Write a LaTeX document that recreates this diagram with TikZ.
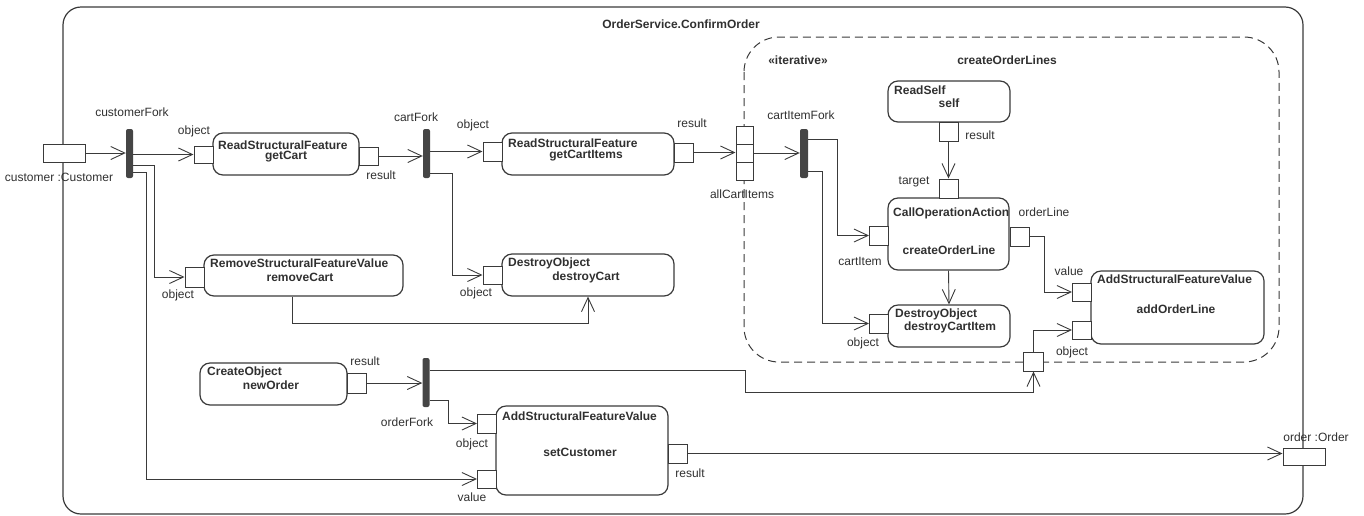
\documentclass[tikz,border=0pt]{standalone}
\usepackage{fontspec}
\setmainfont{Liberation Sans}
\usetikzlibrary{arrows.meta}
\definecolor{ln}{HTML}{3A3A3A}
\definecolor{txt}{HTML}{303030}
\definecolor{bar}{HTML}{454545}
\begin{document}
\begin{tikzpicture}[x=1pt,y=-1pt,
  lbl/.style={font=\fontsize{12}{14}\selectfont, text=txt, inner sep=0},
  kind/.style={font=\bfseries\fontsize{12}{14}\selectfont, text=txt, inner sep=0, anchor=west},
  nm/.style={font=\bfseries\fontsize{12}{14}\selectfont, text=txt, inner sep=0},
  act/.style={draw=ln, line width=1.2pt, rounded corners=10pt, inner sep=0},
  pinbox/.style={draw=ln, line width=1pt, fill=white, inner sep=0, minimum width=19pt, minimum height=19pt},
  forkbar/.style={fill=bar, rounded corners=2pt, inner sep=0, minimum width=7pt, minimum height=49pt},
  flow/.style={draw=ln, line width=0.9pt, -{Straight Barb[length=14pt,width=13pt]}},
  wire/.style={draw=ln, line width=0.9pt},
  framebox/.style={draw=ln, line width=1.2pt, rounded corners=18pt},
  regionbox/.style={draw=ln, line width=1pt, rounded corners=35pt, dash pattern=on 8pt off 5pt}
]
\useasboundingbox (0,0) rectangle (1364,515);

% frame and expansion region
\draw[framebox] (63,7) rectangle (1303,514);
\node[nm] (title) at (681,24) {OrderService.ConfirmOrder};
\draw[regionbox] (744,37) rectangle (1279,362);
\node[nm] (iter) at (798,60) {«iterative»};
\node[nm] (regname) at (1007,60) {createOrderLines};

% parameter pins
\node[pinbox, minimum width=42pt, minimum height=18pt] (cust) at (64,153) {};
\node[lbl] (custL) at (59,177) {customer :Customer};
\node[pinbox, minimum width=42pt, minimum height=17pt] (order) at (1304,456.5) {};
\node[lbl] (orderL) at (1316,437) {order :Order};

% forks
\node[forkbar] (cf) at (129.5,153.5) {};
\node[lbl] (cfL) at (132,112) {customerFork};
\node[forkbar] (kf) at (426.5,153.5) {};
\node[lbl] (kfL) at (416,117) {cartFork};
\node[forkbar, minimum width=8pt] (cif) at (804,153.5) {};
\node[lbl] (cifL) at (801,115) {cartItemFork};
\node[forkbar] (of) at (426,382.5) {};
\node[lbl] (ofL) at (407,422) {orderFork};

% getCart
\node[act, minimum width=146pt, minimum height=42pt] (gc) at (286,154) {};
\node[kind] (gcK) at (218,145) {ReadStructuralFeature};
\node[nm] (gcN) at (286,157) {getCart};
\node[pinbox, minimum height=17pt] (gcObj) at (203.5,154.5) {};
\node[lbl] (gcObjL) at (194,131) {object};
\node[pinbox, minimum height=18pt] (gcRes) at (368.5,156) {};
\node[lbl] (gcResL) at (381,175) {result};

% getCartItems
\node[act, minimum width=172pt, minimum height=42pt] (gci) at (588,154) {};
\node[kind] (gciK) at (508,143) {ReadStructuralFeature};
\node[nm] (gciN) at (586,156) {getCartItems};
\node[pinbox] (gciObj) at (492.5,151.5) {};
\node[lbl] (gciObjL) at (473,125) {object};
\node[pinbox] (gciRes) at (683.5,152.5) {};
\node[lbl] (gciResL) at (692,123) {result};

% allCartItems pin stack
\node[pinbox, minimum width=17pt, minimum height=18pt] (aci1) at (744.5,135) {};
\node[pinbox, minimum width=17pt, minimum height=18pt] (aci2) at (744.5,153) {};
\node[pinbox, minimum width=17pt, minimum height=18pt] (aci3) at (744.5,171.5) {};
\node[lbl] (aciL) at (742,194) {allCartItems};

% removeCart
\node[act, minimum width=199pt, minimum height=41pt] (rc) at (303.5,275.5) {};
\node[kind] (rcK) at (210,263) {RemoveStructuralFeatureValue};
\node[nm] (rcN) at (300,277) {removeCart};
\node[pinbox, minimum height=20pt] (rcObj) at (194.5,277) {};
\node[lbl] (rcObjL) at (178,295) {object};

% destroyCart
\node[act, minimum width=172pt, minimum height=42pt] (dc) at (588,275) {};
\node[kind] (dcK) at (508,263) {DestroyObject};
\node[nm] (dcN) at (586,277) {destroyCart};
\node[pinbox, minimum height=18pt] (dcObj) at (492.5,275) {};
\node[lbl] (dcObjL) at (476,293) {object};

% ReadSelf
\node[act, minimum width=122pt, minimum height=41pt] (rs) at (949,101.5) {};
\node[kind] (rsK) at (894,90) {ReadSelf};
\node[nm] (rsN) at (949,103) {self};
\node[pinbox] (rsRes) at (948.5,131.5) {};
\node[lbl] (rsResL) at (980,135) {result};

% createOrderLine
\node[act, minimum width=121pt, minimum height=72pt] (col) at (948.5,234) {};
\node[kind] (colK) at (893,213) {CallOperationAction};
\node[nm] (colN) at (949,250) {createOrderLine};
\node[pinbox] (colTgt) at (948.5,188.5) {};
\node[lbl] (colTgtL) at (914,182) {target};
\node[pinbox] (colItem) at (879,235.5) {};
\node[lbl] (colItemL) at (860,261) {cartItem};
\node[pinbox] (colOut) at (1019.5,236.5) {};
\node[lbl] (colOutL) at (1044,212) {orderLine};

% destroyCartItem
\node[act, minimum width=122pt, minimum height=42pt] (dci) at (949,326) {};
\node[kind] (dciK) at (895,314) {DestroyObject};
\node[nm] (dciN) at (950,327) {destroyCartItem};
\node[pinbox] (dciObj) at (879,323.5) {};
\node[lbl] (dciObjL) at (863,343) {object};

% addOrderLine
\node[act, minimum width=173pt, minimum height=73pt] (aol) at (1177.5,307.5) {};
\node[kind] (aolK) at (1097,279) {AddStructuralFeatureValue};
\node[nm] (aolN) at (1176,309) {addOrderLine};
\node[pinbox, minimum height=18pt] (aolVal) at (1082,292) {};
\node[lbl] (aolValL) at (1069,271) {value};
\node[pinbox, minimum height=18pt] (aolObj) at (1082,330) {};
\node[lbl] (aolObjL) at (1072,352) {object};

% region input pin
\node[pinbox, minimum width=20pt] (rp) at (1033.5,361.5) {};

% newOrder
\node[act, minimum width=147pt, minimum height=42pt] (no) at (273.5,384) {};
\node[kind] (noK) at (207,372) {CreateObject};
\node[nm] (noN) at (271,385) {newOrder};
\node[pinbox, minimum height=20pt] (noRes) at (356.5,383) {};
\node[lbl] (noResL) at (365,361) {result};

% setCustomer
\node[act, minimum width=172pt, minimum height=89pt] (sc) at (582,450.5) {};
\node[kind] (scK) at (502,416) {AddStructuralFeatureValue};
\node[nm] (scN) at (580,452) {setCustomer};
\node[pinbox] (scObj) at (487,423.5) {};
\node[lbl] (scObjL) at (472,444) {object};
\node[pinbox, minimum height=18pt] (scVal) at (487,479) {};
\node[lbl] (scValL) at (472,497) {value};
\node[pinbox] (scRes) at (677.5,453.5) {};
\node[lbl] (scResL) at (690,473) {result};

% object flows
\draw[flow] (cust.east) -- (cust.east -| cf.west);
\draw[flow] (cf.east |- gcObj.west) -- (gcObj.west);
\draw[flow] (cf.east |- 0,165) -- (154,165) |- (rcObj.west);
\draw[flow] (cf.east |- 0,172) -- (146,172) |- (scVal.west);
\draw[flow] (gcRes.east) -- (gcRes.east -| kf.west);
\draw[flow] (kf.east |- gciObj.west) -- (gciObj.west);
\draw[flow] (kf.east |- 0,173) -- (452,173) |- (dcObj.west);
\draw[flow] ([xshift=-11.5pt]rc.south) -- ++(0,27) -| (dc.south);
\draw[flow] (gciRes.east) -- (gciRes.east -| aci2.west);
\draw[flow] (aci2.east) -- (aci2.east -| cif.west);
\draw[flow] (cif.east |- 0,139) -- (837,139) |- (colItem.west);
\draw[flow] (cif.east |- 0,171) -- (822,171) |- (dciObj.west);
\draw[flow] (rsRes.south) -- (colTgt.north);
\draw[flow] (col.south) -- (dci.north);
\draw[flow] (colOut.east) -- (1044,236.5) |- (aolVal.west);
\draw[flow] (rp.north) |- (aolObj.west);
\draw[flow] (noRes.east) -- (noRes.east -| of.west);
\draw[flow] (of.east |- 0,370) -- (745,370) -- (745,392) -| (rp.south);
\draw[flow] (of.east |- 0,400) -- (448,400) |- (scObj.west);
\draw[flow] (scRes.east) -- (scRes.east -| order.west);
\end{tikzpicture}
\end{document}
